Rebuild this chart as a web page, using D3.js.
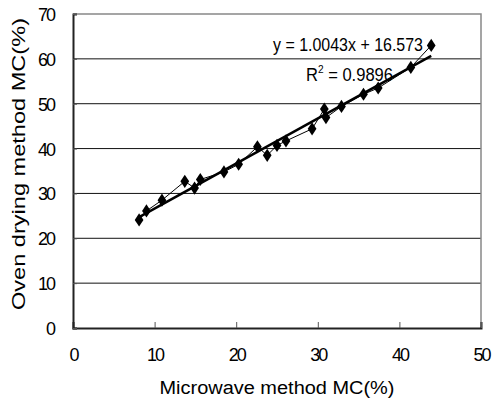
<!DOCTYPE html>
<html>
<head>
<meta charset="utf-8">
<script src="https://cdn.jsdelivr.net/npm/d3@7"></script>
<style>
  body { margin: 0; background: #fff; }
  text { font-family: "Liberation Sans", Arial, sans-serif; fill: #000; }
</style>
</head>
<body>
<div class="container"></div>
<script>
// microwave method MC (x) vs oven drying method MC (y)
const microwaveMC = [8.1, 9.0, 10.9, 13.7, 14.9, 15.6, 18.5, 20.3, 22.6, 23.8, 25.0, 26.1, 29.3, 30.8, 31.0, 32.9, 35.6, 37.4, 41.4, 43.9];
const ovenMC = [24.1, 26.1, 28.5, 32.7, 31.2, 33.1, 34.8, 36.5, 40.4, 38.5, 40.7, 41.7, 44.4, 48.8, 46.9, 49.4, 52.1, 53.5, 58.1, 63.0];
const xTicks = [0, 10, 20, 30, 40, 50];
const yTicks = [0, 10, 20, 30, 40, 50, 60, 70];
const fitCoef = [1.0043, 16.573]; // slope, intercept
const fitR2 = '0.9896';

const width = 494;
const height = 405;
const margin = { top: 14, right: 13, bottom: 77, left: 73 };
const plotW = width - margin.left - margin.right;
const plotH = height - margin.top - margin.bottom;

const svg = d3.select('.container')
    .append('svg')
    .attr('width', width)
    .attr('height', height);

const g = svg.append('g')
    .attr('transform', `translate(${margin.left}, ${margin.top})`);

const x = d3.scaleLinear().domain([0, 50]).range([0, plotW]);
const y = d3.scaleLinear().domain([0, 70]).range([plotH, 0]);

// gridlines
g.selectAll('.grid')
    .data(yTicks.filter(d => d > 0 && d < 70))
    .enter().append('line')
    .attr('x1', 0).attr('x2', plotW)
    .attr('y1', d => y(d)).attr('y2', d => y(d))
    .attr('stroke', '#111').attr('stroke-width', 1);

// frame top and right
g.append('path')
    .attr('d', `M0,${y(70)}H${plotW}V${plotH}`)
    .attr('fill', 'none').attr('stroke', '#888').attr('stroke-width', 1.5);

// axes
const xAxis = d3.axisBottom(x).tickValues(xTicks).tickSize(-6).tickPadding(20);
const yAxis = d3.axisLeft(y).tickValues(yTicks).tickSize(-4).tickPadding(19);

const gx = g.append('g')
    .attr('transform', `translate(0, ${plotH})`)
    .call(xAxis);
const gy = g.append('g').call(yAxis);

[gx, gy].forEach(a => {
    a.select('.domain').attr('stroke', '#222').attr('stroke-width', 2);
    a.selectAll('.tick line').attr('stroke', '#555').attr('stroke-width', 1);
    a.selectAll('.tick text')
        .style('font-size', '18px')
        .style('letter-spacing', '-2px')
        .attr('fill', '#000');
});
gy.selectAll('.tick text').attr('dy', '0.36em');

// data connecting line
const line = d3.line()
    .x(d => x(d[0]))
    .y(d => y(d[1]));
const pts = microwaveMC.map((v, i) => [v, ovenMC[i]]);

g.append('path')
    .attr('d', line(pts))
    .attr('fill', 'none')
    .attr('stroke', '#000')
    .attr('stroke-width', 1);

// linear trend line
const xMin = d3.min(microwaveMC), xMax = d3.max(microwaveMC);
g.append('path')
    .attr('d', line([xMin, xMax].map(v => [v, fitCoef[0] * v + fitCoef[1]])))
    .attr('fill', 'none')
    .attr('stroke', '#000')
    .attr('stroke-width', 2.5);

// diamond markers
g.selectAll('.pt')
    .data(pts)
    .enter().append('path')
    .attr('d', d3.symbol(d3.symbolDiamond, 50))
    .attr('transform', d => `translate(${x(d[0])}, ${y(d[1])}) scale(1.15, 1)`)
    .attr('fill', '#000');

// equation labels
svg.append('text')
    .attr('x', 273).attr('y', 51)
    .attr('textLength', 150).attr('lengthAdjust', 'spacingAndGlyphs')
    .style('font-size', '18px')
    .text(`y = ${fitCoef[0]}x + ${fitCoef[1]}`);

const r2 = svg.append('text')
    .attr('x', 306).attr('y', 81)
    .attr('textLength', 87).attr('lengthAdjust', 'spacingAndGlyphs')
    .style('font-size', '18px');
r2.append('tspan').text('R');
r2.append('tspan').attr('dy', -8).style('font-size', '11px').text('2');
r2.append('tspan').attr('dy', 8).text(` = ${fitR2}`);

// axis titles
svg.append('text')
    .attr('x', margin.left + plotW / 2).attr('y', 394)
    .attr('text-anchor', 'middle')
    .attr('textLength', 235).attr('lengthAdjust', 'spacingAndGlyphs')
    .style('font-size', '18px')
    .text('Microwave method MC(%)');

svg.append('text')
    .attr('transform', `translate(25, ${margin.top + plotH / 2 - 7}) rotate(-90)`)
    .attr('text-anchor', 'middle')
    .attr('textLength', 292).attr('lengthAdjust', 'spacingAndGlyphs')
    .style('font-size', '18px')
    .text('Oven drying method MC(%)');
</script>
</body>
</html>
